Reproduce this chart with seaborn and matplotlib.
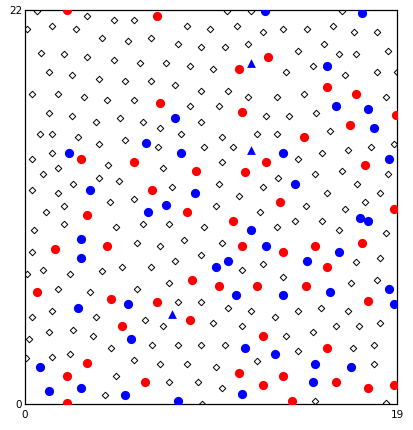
import matplotlib
matplotlib.use("Agg")
import matplotlib.pyplot as plt
import seaborn as sns
import pandas as pd

# Open diamonds (background lattice)
dia_x = [0.63, 3.18, 4.53, 5.57, 0.09, 1.36, 2.61, 8.26, 3.92, 5.28, 6.45, 7.83, 9.01, 0.80, 1.99, 3.18,
         4.53, 5.87, 7.20, 8.41, 1.24, 2.42, 3.78, 5.12, 6.45, 7.66, 9.01, 0.36, 1.67, 3.03, 4.20, 5.57,
         8.41, 1.23, 2.42, 3.61, 4.84, 6.03, 6.91, 9.01,
         10.33, 11.56, 16.18, 9.43, 10.81, 12.14, 13.19, 14.39, 15.72, 16.79, 17.97, 10.20, 11.41, 13.94,
         15.29, 16.04, 16.92, 18.56, 9.60, 13.35, 14.70, 16.33, 18.00, 18.99, 10.35, 11.41, 12.89, 14.24,
         18.44, 9.91, 12.30, 13.49, 14.85,
         0.78, 1.39, 2.72, 5.12, 7.97, 3.80, 6.78, 9.16, 1.38, 0.34, 1.69, 4.22, 7.06, 0.93, 3.78, 2.45,
         4.82, 0.34, 1.70, 7.52, 4.36, 5.58, 1.99, 1.09, 1.99, 4.66, 6.03, 7.37, 9.16, 0.48, 8.11, 5.71,
         6.91, 0.34, 9.01,
         10.05, 11.87, 12.87, 15.59, 10.64, 15.16, 16.48, 17.69, 18.86, 10.05, 13.93, 14.83, 16.19, 18.56,
         12.91, 9.91, 12.14, 16.94, 15.44, 18.13, 10.95, 17.38, 9.76, 14.37, 12.00, 16.33, 13.81, 15.16,
         12.89, 16.04, 18.44, 10.05, 18.13,
         7.66, 0.93, 0.09, 2.30, 3.93, 4.97, 6.45, 7.37, 1.70, 3.34, 5.72, 7.83, 9.01, 1.38, 0.34, 3.64,
         6.15, 7.06, 1.24, 2.44, 3.49, 0.20, 4.38, 6.47, 7.82, 9.01, 0.07, 1.39, 2.28, 5.58, 6.91, 8.28,
         4.66, 7.37, 8.85, 4.07, 9.03,
         11.10, 12.16, 16.92, 13.19, 16.65, 17.97, 10.37, 11.54, 13.93, 15.14, 16.48, 9.62, 11.10, 12.75,
         14.70, 15.89, 17.08, 18.13, 10.20, 13.33, 13.96, 16.77, 17.83, 9.74, 11.87, 17.83, 10.06, 14.83,
         18.42]
dia_y = [21.95, 21.67, 21.46, 21.46, 20.96, 21.12, 20.96, 21.12, 20.45, 20.25, 20.44, 20.09, 19.92, 19.58,
         19.56, 19.39, 19.21, 19.06, 19.06, 18.89, 18.52, 18.35, 18.16, 18.02, 18.02, 17.83, 17.49, 17.33,
         17.33, 17.13, 16.99, 16.99, 16.62, 16.27, 16.10, 15.76, 15.95, 15.76, 15.43, 15.76,
         21.95, 21.95, 21.95, 20.96, 21.12, 20.77, 20.96, 20.96, 21.12, 20.77, 20.77, 19.92, 20.10, 19.73,
         20.10, 19.56, 19.56, 19.73, 18.71, 18.52, 18.87, 18.35, 18.54, 18.54, 17.49, 17.14, 17.14, 17.31,
         17.14, 16.62, 16.10, 16.10, 16.27,
         15.06, 15.06, 14.91, 14.74, 15.08, 14.54, 14.37, 14.37, 14.02, 13.68, 13.16, 13.35, 13.16, 12.83,
         12.64, 12.30, 12.47, 11.95, 11.78, 12.12, 11.26, 11.43, 11.06, 10.74, 10.07, 9.87, 10.07, 10.05,
         9.87, 9.72, 9.17, 9.01, 8.84, 8.49, 8.32,
         14.91, 15.06, 15.06, 15.23, 14.37, 14.02, 14.20, 14.37, 14.54, 13.51, 13.68, 12.83, 12.99, 12.83,
         12.64, 12.30, 12.13, 12.30, 11.78, 11.78, 11.60, 11.26, 11.07, 11.07, 10.74, 10.91, 10.24, 10.24,
         9.87, 9.70, 9.53, 9.01, 8.17,
         7.99, 7.47, 7.26, 7.26, 7.43, 7.63, 7.63, 6.76, 6.40, 6.24, 6.40, 5.71, 5.71, 5.19, 4.86, 4.86,
         4.67, 4.34, 4.00, 4.15, 3.81, 3.63, 3.13, 3.29, 3.29, 3.29, 2.59, 2.61, 2.79, 2.44, 2.25, 2.25,
         1.56, 1.21, 1.21, 0.52, 0.02,
         7.47, 7.80, 7.93, 7.11, 6.76, 6.92, 5.38, 5.19, 5.19, 5.38, 5.19, 4.51, 4.34, 4.86, 4.00, 4.34,
         4.34, 4.51, 3.29, 3.81, 2.96, 3.13, 3.29, 2.08, 2.42, 2.25, 0.89, 0.18, 0.04]

# Red filled circles
red_x = [2.13, 6.76, 6.91, 12.43, 10.95, 15.43, 16.92, 11.08, 16.62, 18.97, 14.25, 2.88, 5.58, 8.72,
         6.47, 3.17, 8.26, 1.55, 4.20, 12.30, 11.25, 17.38, 13.04, 10.64, 18.85, 11.10, 14.83, 17.23,
         13.19, 15.44, 0.63, 4.38, 6.76, 8.55, 8.41, 4.97, 3.17, 2.13, 6.15, 2.13, 9.91, 11.87, 14.37,
         17.54, 12.14, 15.44, 10.95, 13.19, 12.16, 15.89, 17.54, 18.85, 13.65]
red_y = [22.00, 21.67, 16.79, 19.39, 18.69, 17.68, 17.31, 16.29, 15.60, 16.12, 14.89, 13.66, 13.50, 12.99,
         11.93, 10.57, 10.74, 8.66, 8.84, 13.50, 12.97, 13.33, 11.26, 10.22, 10.91, 8.84, 8.84, 9.01,
         8.47, 7.67, 6.24, 5.88, 5.71, 6.92, 4.67, 4.34, 2.27, 1.56, 1.21, 0.04, 6.59, 6.59, 6.59,
         5.73, 3.81, 3.13, 1.75, 1.55, 1.04, 1.21, 0.89, 1.04, 0.18]

# Blue filled circles
blue_x = [7.68, 12.27, 17.23, 15.43, 15.89, 17.54, 17.83, 6.17, 2.26, 7.95, 3.34, 8.70, 7.22, 6.30,
          2.88, 2.88, 13.19, 18.58, 13.81, 17.10, 17.54, 11.56, 12.31, 16.04, 10.35, 9.76, 14.39, 2.72,
          5.28, 5.43, 0.78, 1.24, 2.88, 5.12, 7.83, 10.79, 13.19, 15.59, 18.58, 18.85, 11.25, 12.75,
          14.83, 16.64, 14.70, 11.10]
blue_y = [15.95, 21.95, 21.82, 18.87, 16.62, 16.47, 15.41, 14.56, 14.02, 14.02, 11.93, 11.78, 11.10, 10.74,
          9.20, 8.15, 14.02, 13.66, 12.30, 10.39, 10.22, 9.70, 8.84, 8.47, 7.97, 7.67, 7.97, 5.38,
          5.57, 3.63, 2.08, 0.71, 0.89, 0.52, 0.18, 6.07, 6.07, 6.24, 6.40, 5.57, 3.11, 2.78,
          2.25, 2.08, 1.21, 0.54]

# Blue triangles
tri_x = [11.54, 11.54, 7.51]
tri_y = [19.04, 14.18, 5.03]

x_ticks = [0, 19]
y_ticks = [0, 22]

sns.set_theme(style="white")
plt.rcParams['font.family'] = ['DejaVu Sans']

fig = plt.figure(figsize=(4.13, 4.30), dpi=100)
ax = fig.add_axes([25 / 413, 1 - 404 / 430, 372 / 413, 394 / 430])

dia = pd.DataFrame({"x": dia_x, "y": dia_y})
red = pd.DataFrame({"x": red_x, "y": red_y})
blue = pd.DataFrame({"x": blue_x, "y": blue_y})
tri = pd.DataFrame({"x": tri_x, "y": tri_y})

sns.scatterplot(data=dia, x="x", y="y", ax=ax, marker="D", s=11, facecolor="white",
                edgecolor="black", linewidth=0.7, zorder=2)
sns.scatterplot(data=red, x="x", y="y", ax=ax, marker="o", s=44, color="#ff0000",
                linewidth=0, zorder=3)
sns.scatterplot(data=blue, x="x", y="y", ax=ax, marker="o", s=44, color="#0000ff",
                linewidth=0, zorder=3)
sns.scatterplot(data=tri, x="x", y="y", ax=ax, marker="^", s=40, color="#0000ff",
                linewidth=0, zorder=3)

ax.set_xlim(0, 19)
ax.set_ylim(0, 22)
ax.set_xticks(x_ticks)
ax.set_yticks(y_ticks)
ax.set_xticklabels([str(v) for v in x_ticks])
ax.set_yticklabels([str(v) for v in y_ticks])
ax.tick_params(axis="both", length=0, labelsize=7.5, colors="black")
ax.tick_params(axis="x", pad=4)
ax.tick_params(axis="y", pad=2)
ax.set_xlabel("")
ax.set_ylabel("")
for sp in ax.spines.values():
    sp.set_visible(True)
    sp.set_color("black")
    sp.set_linewidth(0.9)
ax.set_facecolor("white")
fig.patch.set_facecolor("white")

fig.savefig("out.png", dpi=100)
